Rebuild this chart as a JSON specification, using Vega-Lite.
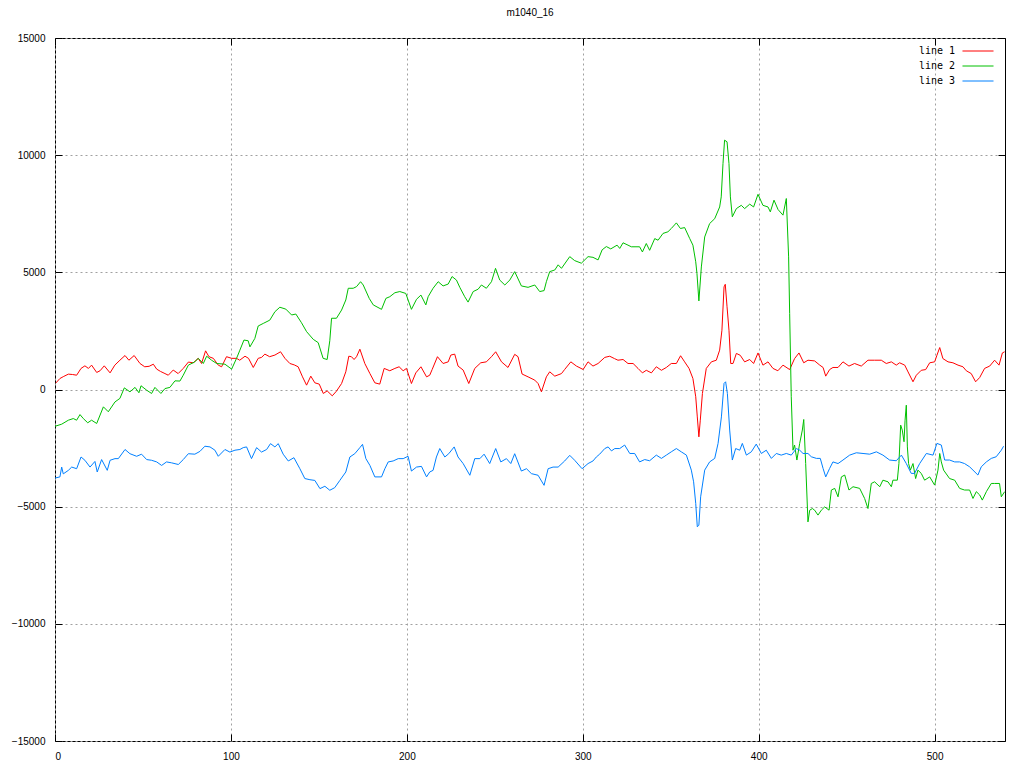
{
"$schema": "https://vega.github.io/schema/vega-lite/v6.json",
"width": 950,
"height": 703,
"autosize": {"type": "none"},
"padding": {"left": 55, "top": 38, "right": 19, "bottom": 27},
"background": "white",
"title": {"text": "m1040_16", "font": "Liberation Sans", "fontSize": 10, "fontWeight": "normal", "color": "black", "anchor": "middle", "offset": 15},
"config": {
  "view": {"stroke": "black", "strokeWidth": 1},
  "axis": {"domain": false, "labelFont": "Liberation Sans", "labelFontSize": 10, "labelColor": "black", "tickColor": "black", "tickSize": -7, "tickWidth": 1, "gridColor": "#a0a0a0", "gridDash": [2, 3], "gridWidth": 1, "gridOpacity": 1, "title": null, "labelPadding": 17}
},
"data": {"values": [
{"s":"line 1","x":0.5,"y":280},{"s":"line 1","x":2.8,"y":470},{"s":"line 1","x":5,"y":560},{"s":"line 1","x":7.6,"y":655},{"s":"line 1","x":10,"y":640},{"s":"line 1","x":12.3,"y":610},{"s":"line 1","x":14.8,"y":900},{"s":"line 1","x":17,"y":1010},{"s":"line 1","x":19,"y":900},{"s":"line 1","x":20.8,"y":1040},{"s":"line 1","x":23.7,"y":727},{"s":"line 1","x":25.6,"y":800},{"s":"line 1","x":28,"y":1010},{"s":"line 1","x":31.3,"y":710},{"s":"line 1","x":34,"y":1040},{"s":"line 1","x":36.9,"y":1250},{"s":"line 1","x":39.8,"y":1450},{"s":"line 1","x":42,"y":1250},{"s":"line 1","x":45,"y":1450},{"s":"line 1","x":48.3,"y":1110},{"s":"line 1","x":51,"y":970},{"s":"line 1","x":53.5,"y":990},{"s":"line 1","x":55.9,"y":1080},{"s":"line 1","x":57.8,"y":870},{"s":"line 1","x":60,"y":770},{"s":"line 1","x":62.5,"y":680},{"s":"line 1","x":64.4,"y":610},{"s":"line 1","x":67.2,"y":830},{"s":"line 1","x":70,"y":680},{"s":"line 1","x":72.9,"y":900},{"s":"line 1","x":75.8,"y":1170},{"s":"line 1","x":78.6,"y":1140},{"s":"line 1","x":81.4,"y":1330},{"s":"line 1","x":83.3,"y":1110},{"s":"line 1","x":85.6,"y":1650},{"s":"line 1","x":87.5,"y":1400},{"s":"line 1","x":90,"y":1330},{"s":"line 1","x":92.8,"y":1040},{"s":"line 1","x":94.7,"y":970},{"s":"line 1","x":97.5,"y":1400},{"s":"line 1","x":100.4,"y":1330},{"s":"line 1","x":103.2,"y":1330},{"s":"line 1","x":105,"y":1250},{"s":"line 1","x":108,"y":1420},{"s":"line 1","x":110,"y":1330},{"s":"line 1","x":112.7,"y":940},{"s":"line 1","x":115.5,"y":1330},{"s":"line 1","x":117.4,"y":1370},{"s":"line 1","x":119.3,"y":1510},{"s":"line 1","x":122,"y":1400},{"s":"line 1","x":125,"y":1470},{"s":"line 1","x":128.2,"y":1610},{"s":"line 1","x":130.7,"y":1330},{"s":"line 1","x":133.5,"y":1110},{"s":"line 1","x":136,"y":1050},{"s":"line 1","x":138.2,"y":970},{"s":"line 1","x":140.7,"y":540},{"s":"line 1","x":143,"y":185},{"s":"line 1","x":145.4,"y":570},{"s":"line 1","x":147.7,"y":285},{"s":"line 1","x":150.2,"y":230},{"s":"line 1","x":152.5,"y":-170},{"s":"line 1","x":154.7,"y":-60},{"s":"line 1","x":157.6,"y":-270},{"s":"line 1","x":160,"y":-70},{"s":"line 1","x":162.9,"y":255},{"s":"line 1","x":165.3,"y":755},{"s":"line 1","x":167,"y":1420},{"s":"line 1","x":168.5,"y":1400},{"s":"line 1","x":170,"y":1280},{"s":"line 1","x":171.4,"y":1400},{"s":"line 1","x":173.3,"y":1720},{"s":"line 1","x":176.1,"y":1110},{"s":"line 1","x":179,"y":680},{"s":"line 1","x":181.8,"y":285},{"s":"line 1","x":184.6,"y":230},{"s":"line 1","x":187.1,"y":900},{"s":"line 1","x":190.3,"y":800},{"s":"line 1","x":193.2,"y":900},{"s":"line 1","x":195.6,"y":970},{"s":"line 1","x":197.9,"y":800},{"s":"line 1","x":199.8,"y":900},{"s":"line 1","x":202.6,"y":255},{"s":"line 1","x":205.1,"y":710},{"s":"line 1","x":208,"y":970},{"s":"line 1","x":211.2,"y":540},{"s":"line 1","x":213,"y":610},{"s":"line 1","x":214.4,"y":855},{"s":"line 1","x":217.4,"y":1400},{"s":"line 1","x":220.6,"y":1110},{"s":"line 1","x":223.5,"y":1180},{"s":"line 1","x":225,"y":1470},{"s":"line 1","x":227.2,"y":1510},{"s":"line 1","x":229.1,"y":1000},{"s":"line 1","x":232,"y":830},{"s":"line 1","x":235.2,"y":255},{"s":"line 1","x":238.6,"y":900},{"s":"line 1","x":242,"y":1140},{"s":"line 1","x":245.2,"y":1180},{"s":"line 1","x":248.1,"y":1400},{"s":"line 1","x":250.5,"y":1610},{"s":"line 1","x":253.8,"y":1180},{"s":"line 1","x":257.5,"y":940},{"s":"line 1","x":261.3,"y":1500},{"s":"line 1","x":263.2,"y":1400},{"s":"line 1","x":265.5,"y":660},{"s":"line 1","x":268.9,"y":540},{"s":"line 1","x":272.7,"y":400},{"s":"line 1","x":274.6,"y":255},{"s":"line 1","x":276.5,"y":-100},{"s":"line 1","x":279.3,"y":540},{"s":"line 1","x":281.2,"y":755},{"s":"line 1","x":284.1,"y":570},{"s":"line 1","x":287.9,"y":680},{"s":"line 1","x":289.7,"y":855},{"s":"line 1","x":293.2,"y":1180},{"s":"line 1","x":296.4,"y":1000},{"s":"line 1","x":300.2,"y":855},{"s":"line 1","x":303,"y":1180},{"s":"line 1","x":305.8,"y":1000},{"s":"line 1","x":308.7,"y":1110},{"s":"line 1","x":312.5,"y":1370},{"s":"line 1","x":315.3,"y":1420},{"s":"line 1","x":318,"y":1320},{"s":"line 1","x":320,"y":1250},{"s":"line 1","x":322.9,"y":1280},{"s":"line 1","x":325.7,"y":1110},{"s":"line 1","x":328.6,"y":1110},{"s":"line 1","x":331.4,"y":900},{"s":"line 1","x":333.9,"y":710},{"s":"line 1","x":336.1,"y":820},{"s":"line 1","x":339,"y":710},{"s":"line 1","x":341.8,"y":970},{"s":"line 1","x":344.7,"y":820},{"s":"line 1","x":347.5,"y":940},{"s":"line 1","x":350.3,"y":1110},{"s":"line 1","x":353.2,"y":1110},{"s":"line 1","x":355.6,"y":1440},{"s":"line 1","x":357.9,"y":1180},{"s":"line 1","x":360.4,"y":900},{"s":"line 1","x":362.6,"y":470},{"s":"line 1","x":364.2,"y":-310},{"s":"line 1","x":365.1,"y":-1170},{"s":"line 1","x":366,"y":-2020},{"s":"line 1","x":366.8,"y":-1310},{"s":"line 1","x":368,"y":-170},{"s":"line 1","x":370.2,"y":900},{"s":"line 1","x":373.1,"y":1180},{"s":"line 1","x":375.9,"y":1250},{"s":"line 1","x":377.8,"y":1680},{"s":"line 1","x":379.1,"y":2530},{"s":"line 1","x":380.3,"y":4380},{"s":"line 1","x":381,"y":4490},{"s":"line 1","x":382,"y":3530},{"s":"line 1","x":383.1,"y":2530},{"s":"line 1","x":384.1,"y":1110},{"s":"line 1","x":385.4,"y":1110},{"s":"line 1","x":387.3,"y":1540},{"s":"line 1","x":389.5,"y":1460},{"s":"line 1","x":392,"y":1180},{"s":"line 1","x":394.9,"y":1280},{"s":"line 1","x":397.1,"y":1110},{"s":"line 1","x":399.6,"y":1560},{"s":"line 1","x":402.4,"y":1040},{"s":"line 1","x":405.3,"y":1180},{"s":"line 1","x":408.1,"y":900},{"s":"line 1","x":410.9,"y":800},{"s":"line 1","x":413.8,"y":1040},{"s":"line 1","x":417.6,"y":850},{"s":"line 1","x":420.4,"y":1320},{"s":"line 1","x":422.9,"y":1560},{"s":"line 1","x":425.6,"y":1140},{"s":"line 1","x":428,"y":1250},{"s":"line 1","x":431.8,"y":1220},{"s":"line 1","x":434.7,"y":1040},{"s":"line 1","x":436.6,"y":940},{"s":"line 1","x":438.1,"y":570},{"s":"line 1","x":440.3,"y":850},{"s":"line 1","x":442.2,"y":940},{"s":"line 1","x":445.1,"y":940},{"s":"line 1","x":447.9,"y":1180},{"s":"line 1","x":451.3,"y":1000},{"s":"line 1","x":454.5,"y":1110},{"s":"line 1","x":458.3,"y":1000},{"s":"line 1","x":462.1,"y":1250},{"s":"line 1","x":465.9,"y":1250},{"s":"line 1","x":469.7,"y":1250},{"s":"line 1","x":472.5,"y":1110},{"s":"line 1","x":475.4,"y":1180},{"s":"line 1","x":478.2,"y":1040},{"s":"line 1","x":480.1,"y":1140},{"s":"line 1","x":483,"y":1040},{"s":"line 1","x":484.9,"y":750},{"s":"line 1","x":487.7,"y":330},{"s":"line 1","x":489.6,"y":610},{"s":"line 1","x":492.4,"y":820},{"s":"line 1","x":494.9,"y":850},{"s":"line 1","x":497.2,"y":1140},{"s":"line 1","x":500,"y":1180},{"s":"line 1","x":501.3,"y":1460},{"s":"line 1","x":502.9,"y":1790},{"s":"line 1","x":504.7,"y":1320},{"s":"line 1","x":507.6,"y":1180},{"s":"line 1","x":510.4,"y":1140},{"s":"line 1","x":513.3,"y":1040},{"s":"line 1","x":516.1,"y":970},{"s":"line 1","x":518,"y":800},{"s":"line 1","x":520.8,"y":680},{"s":"line 1","x":523.3,"y":330},{"s":"line 1","x":525.6,"y":510},{"s":"line 1","x":528.4,"y":900},{"s":"line 1","x":531.3,"y":1000},{"s":"line 1","x":534.1,"y":1250},{"s":"line 1","x":536.6,"y":1040},{"s":"line 1","x":538.5,"y":1560},{"s":"line 1","x":539.8,"y":1610},
{"s":"line 2","x":0,"y":-1570},{"s":"line 2","x":3.8,"y":-1480},{"s":"line 2","x":7.6,"y":-1310},{"s":"line 2","x":10.4,"y":-1240},{"s":"line 2","x":12.3,"y":-1310},{"s":"line 2","x":14.2,"y":-1070},{"s":"line 2","x":16.1,"y":-1240},{"s":"line 2","x":18.6,"y":-1420},{"s":"line 2","x":20.8,"y":-1310},{"s":"line 2","x":23.7,"y":-1450},{"s":"line 2","x":27.5,"y":-740},{"s":"line 2","x":30.3,"y":-950},{"s":"line 2","x":34.1,"y":-530},{"s":"line 2","x":36.9,"y":-380},{"s":"line 2","x":39.4,"y":70},{"s":"line 2","x":42.6,"y":-100},{"s":"line 2","x":45.5,"y":90},{"s":"line 2","x":47.7,"y":-140},{"s":"line 2","x":48.9,"y":160},{"s":"line 2","x":52.1,"y":-30},{"s":"line 2","x":54.9,"y":-170},{"s":"line 2","x":56.8,"y":90},{"s":"line 2","x":60.2,"y":-170},{"s":"line 2","x":62.5,"y":40},{"s":"line 2","x":65.3,"y":90},{"s":"line 2","x":68.2,"y":370},{"s":"line 2","x":71,"y":360},{"s":"line 2","x":72.9,"y":610},{"s":"line 2","x":75.8,"y":1040},{"s":"line 2","x":79.5,"y":1180},{"s":"line 2","x":81.4,"y":1330},{"s":"line 2","x":84.3,"y":1110},{"s":"line 2","x":86.2,"y":1420},{"s":"line 2","x":89,"y":1250},{"s":"line 2","x":91.9,"y":1110},{"s":"line 2","x":96.6,"y":1080},{"s":"line 2","x":100.4,"y":870},{"s":"line 2","x":103.2,"y":1330},{"s":"line 2","x":105.1,"y":1680},{"s":"line 2","x":107.4,"y":2110},{"s":"line 2","x":109.8,"y":2080},{"s":"line 2","x":110.8,"y":1820},{"s":"line 2","x":113.6,"y":2180},{"s":"line 2","x":115.5,"y":2710},{"s":"line 2","x":118.4,"y":2820},{"s":"line 2","x":122.1,"y":2960},{"s":"line 2","x":125,"y":3320},{"s":"line 2","x":127.8,"y":3510},{"s":"line 2","x":131.2,"y":3430},{"s":"line 2","x":134.5,"y":3180},{"s":"line 2","x":136.9,"y":3220},{"s":"line 2","x":140.1,"y":2850},{"s":"line 2","x":143,"y":2470},{"s":"line 2","x":146.8,"y":2140},{"s":"line 2","x":149.6,"y":2000},{"s":"line 2","x":152.4,"y":1330},{"s":"line 2","x":154.7,"y":1280},{"s":"line 2","x":156.2,"y":2080},{"s":"line 2","x":157.2,"y":3040},{"s":"line 2","x":160,"y":3040},{"s":"line 2","x":162.9,"y":3390},{"s":"line 2","x":165.3,"y":3820},{"s":"line 2","x":166.7,"y":4320},{"s":"line 2","x":169.5,"y":4320},{"s":"line 2","x":171.4,"y":4390},{"s":"line 2","x":173.7,"y":4600},{"s":"line 2","x":175.2,"y":4460},{"s":"line 2","x":178.6,"y":3890},{"s":"line 2","x":180.9,"y":3610},{"s":"line 2","x":185.6,"y":3420},{"s":"line 2","x":188.1,"y":3890},{"s":"line 2","x":190.3,"y":3960},{"s":"line 2","x":193.2,"y":4130},{"s":"line 2","x":196,"y":4180},{"s":"line 2","x":199.4,"y":4100},{"s":"line 2","x":202.6,"y":3420},{"s":"line 2","x":205.5,"y":3850},{"s":"line 2","x":208,"y":4030},{"s":"line 2","x":210.8,"y":3610},{"s":"line 2","x":212.1,"y":3960},{"s":"line 2","x":214.9,"y":4320},{"s":"line 2","x":217.8,"y":4600},{"s":"line 2","x":220.6,"y":4420},{"s":"line 2","x":223.5,"y":4500},{"s":"line 2","x":225.7,"y":4820},{"s":"line 2","x":228.2,"y":4670},{"s":"line 2","x":230.1,"y":4360},{"s":"line 2","x":232.9,"y":3960},{"s":"line 2","x":234.8,"y":3730},{"s":"line 2","x":237.7,"y":4180},{"s":"line 2","x":240.5,"y":4280},{"s":"line 2","x":242.4,"y":4460},{"s":"line 2","x":245.2,"y":4320},{"s":"line 2","x":248.1,"y":4600},{"s":"line 2","x":250.4,"y":5170},{"s":"line 2","x":252.8,"y":4670},{"s":"line 2","x":255.7,"y":4460},{"s":"line 2","x":258.5,"y":4670},{"s":"line 2","x":261.3,"y":5030},{"s":"line 2","x":265.1,"y":4420},{"s":"line 2","x":268.9,"y":4360},{"s":"line 2","x":272.7,"y":4460},{"s":"line 2","x":275.5,"y":4180},{"s":"line 2","x":278,"y":4220},{"s":"line 2","x":279.3,"y":4600},{"s":"line 2","x":281.2,"y":5030},{"s":"line 2","x":284.1,"y":5100},{"s":"line 2","x":286,"y":5320},{"s":"line 2","x":287.9,"y":5170},{"s":"line 2","x":292.6,"y":5670},{"s":"line 2","x":295.4,"y":5500},{"s":"line 2","x":299.2,"y":5390},{"s":"line 2","x":303,"y":5670},{"s":"line 2","x":305.8,"y":5640},{"s":"line 2","x":308.7,"y":5530},{"s":"line 2","x":311,"y":5960},{"s":"line 2","x":313.4,"y":6100},{"s":"line 2","x":315.9,"y":6000},{"s":"line 2","x":319.5,"y":6160},{"s":"line 2","x":321,"y":6020},{"s":"line 2","x":322.9,"y":6260},{"s":"line 2","x":325.7,"y":6160},{"s":"line 2","x":327.6,"y":6090},{"s":"line 2","x":332.3,"y":6090},{"s":"line 2","x":333.9,"y":5870},{"s":"line 2","x":336.1,"y":6230},{"s":"line 2","x":338,"y":5940},{"s":"line 2","x":340.9,"y":6440},{"s":"line 2","x":342.8,"y":6370},{"s":"line 2","x":345.6,"y":6660},{"s":"line 2","x":348.4,"y":6730},{"s":"line 2","x":350.3,"y":6870},{"s":"line 2","x":353.2,"y":7110},{"s":"line 2","x":355.5,"y":6870},{"s":"line 2","x":357.9,"y":6910},{"s":"line 2","x":360.8,"y":6440},{"s":"line 2","x":362.6,"y":6160},{"s":"line 2","x":364.2,"y":5450},{"s":"line 2","x":364.9,"y":4950},{"s":"line 2","x":366,"y":3780},{"s":"line 2","x":367.4,"y":5230},{"s":"line 2","x":369.3,"y":6510},{"s":"line 2","x":372.1,"y":7080},{"s":"line 2","x":375,"y":7290},{"s":"line 2","x":377.8,"y":7790},{"s":"line 2","x":378.7,"y":8220},{"s":"line 2","x":379.7,"y":9640},{"s":"line 2","x":380.6,"y":10640},{"s":"line 2","x":382,"y":10570},{"s":"line 2","x":383.1,"y":9640},{"s":"line 2","x":383.9,"y":8220},{"s":"line 2","x":385,"y":7370},{"s":"line 2","x":387.3,"y":7720},{"s":"line 2","x":390.1,"y":7860},{"s":"line 2","x":392,"y":7720},{"s":"line 2","x":394.9,"y":7910},{"s":"line 2","x":397.1,"y":7790},{"s":"line 2","x":399.6,"y":8330},{"s":"line 2","x":402.4,"y":7860},{"s":"line 2","x":405.3,"y":7790},{"s":"line 2","x":406.6,"y":7580},{"s":"line 2","x":408.7,"y":8080},{"s":"line 2","x":411,"y":7680},{"s":"line 2","x":413.8,"y":7440},{"s":"line 2","x":415.7,"y":8150},{"s":"line 2","x":417,"y":5660},{"s":"line 2","x":417.6,"y":3240},{"s":"line 2","x":418.5,"y":-310},{"s":"line 2","x":419.5,"y":-2590},{"s":"line 2","x":420.4,"y":-2370},{"s":"line 2","x":421.7,"y":-3010},{"s":"line 2","x":423.3,"y":-2300},{"s":"line 2","x":424.8,"y":-1730},{"s":"line 2","x":425.6,"y":-1280},{"s":"line 2","x":426.7,"y":-3160},{"s":"line 2","x":428,"y":-5650},{"s":"line 2","x":429,"y":-5150},{"s":"line 2","x":430.5,"y":-5080},{"s":"line 2","x":431.8,"y":-5150},{"s":"line 2","x":433.7,"y":-5360},{"s":"line 2","x":435.6,"y":-5150},{"s":"line 2","x":437.5,"y":-5010},{"s":"line 2","x":440,"y":-5150},{"s":"line 2","x":441.3,"y":-4290},{"s":"line 2","x":443.2,"y":-4220},{"s":"line 2","x":445.1,"y":-4580},{"s":"line 2","x":447,"y":-3730},{"s":"line 2","x":448.9,"y":-3650},{"s":"line 2","x":451.3,"y":-4290},{"s":"line 2","x":453.6,"y":-4150},{"s":"line 2","x":457.4,"y":-4220},{"s":"line 2","x":460.2,"y":-4650},{"s":"line 2","x":462.1,"y":-5080},{"s":"line 2","x":464,"y":-4010},{"s":"line 2","x":465.9,"y":-3940},{"s":"line 2","x":468.8,"y":-4150},{"s":"line 2","x":470.6,"y":-3870},{"s":"line 2","x":473.5,"y":-3940},{"s":"line 2","x":475.4,"y":-4150},{"s":"line 2","x":476.3,"y":-3870},{"s":"line 2","x":478.8,"y":-3870},{"s":"line 2","x":479.7,"y":-3160},{"s":"line 2","x":480.7,"y":-1520},{"s":"line 2","x":481.6,"y":-1730},{"s":"line 2","x":482.6,"y":-2230},{"s":"line 2","x":483.2,"y":-1310},{"s":"line 2","x":483.9,"y":-670},{"s":"line 2","x":484.5,"y":-2450},{"s":"line 2","x":485.2,"y":-3160},{"s":"line 2","x":486.2,"y":-3440},{"s":"line 2","x":487.7,"y":-3160},{"s":"line 2","x":489.2,"y":-3800},{"s":"line 2","x":490.5,"y":-3440},{"s":"line 2","x":492.4,"y":-3580},{"s":"line 2","x":494.3,"y":-3870},{"s":"line 2","x":497.2,"y":-3730},{"s":"line 2","x":500,"y":-4080},{"s":"line 2","x":501.9,"y":-3440},{"s":"line 2","x":502.9,"y":-2730},{"s":"line 2","x":503.8,"y":-3090},{"s":"line 2","x":505.1,"y":-3440},{"s":"line 2","x":508.5,"y":-3800},{"s":"line 2","x":511.4,"y":-3870},{"s":"line 2","x":514.2,"y":-4220},{"s":"line 2","x":517,"y":-4290},{"s":"line 2","x":519.9,"y":-4290},{"s":"line 2","x":521.8,"y":-4650},{"s":"line 2","x":523.7,"y":-4360},{"s":"line 2","x":525.6,"y":-4500},{"s":"line 2","x":527.1,"y":-4720},{"s":"line 2","x":529.4,"y":-4360},{"s":"line 2","x":532.2,"y":-4010},{"s":"line 2","x":534.1,"y":-4010},{"s":"line 2","x":536.9,"y":-4010},{"s":"line 2","x":537.9,"y":-4580},{"s":"line 2","x":539.8,"y":-4360},
{"s":"line 3","x":0,"y":-3780},{"s":"line 3","x":2.8,"y":-3730},{"s":"line 3","x":3.8,"y":-3310},{"s":"line 3","x":4.7,"y":-3600},{"s":"line 3","x":7.6,"y":-3450},{"s":"line 3","x":9.5,"y":-3310},{"s":"line 3","x":12.3,"y":-3380},{"s":"line 3","x":14.8,"y":-2880},{"s":"line 3","x":17,"y":-3020},{"s":"line 3","x":19.9,"y":-3310},{"s":"line 3","x":22.7,"y":-3070},{"s":"line 3","x":24,"y":-3520},{"s":"line 3","x":26.5,"y":-2990},{"s":"line 3","x":29.7,"y":-3450},{"s":"line 3","x":31.3,"y":-3020},{"s":"line 3","x":34.1,"y":-2950},{"s":"line 3","x":36,"y":-2950},{"s":"line 3","x":39.8,"y":-2560},{"s":"line 3","x":42.6,"y":-2740},{"s":"line 3","x":46.4,"y":-2850},{"s":"line 3","x":49.2,"y":-2760},{"s":"line 3","x":52.1,"y":-2990},{"s":"line 3","x":54.9,"y":-3020},{"s":"line 3","x":57.8,"y":-3090},{"s":"line 3","x":60.6,"y":-3240},{"s":"line 3","x":63.4,"y":-3090},{"s":"line 3","x":66.3,"y":-3130},{"s":"line 3","x":70.1,"y":-3200},{"s":"line 3","x":72.9,"y":-2990},{"s":"line 3","x":75.8,"y":-2740},{"s":"line 3","x":79.5,"y":-2760},{"s":"line 3","x":82.4,"y":-2640},{"s":"line 3","x":85.2,"y":-2420},{"s":"line 3","x":88.1,"y":-2450},{"s":"line 3","x":90.9,"y":-2590},{"s":"line 3","x":92.8,"y":-2850},{"s":"line 3","x":96.6,"y":-2560},{"s":"line 3","x":99.4,"y":-2670},{"s":"line 3","x":102.3,"y":-2590},{"s":"line 3","x":105.1,"y":-2560},{"s":"line 3","x":107,"y":-2480},{"s":"line 3","x":108.9,"y":-2450},{"s":"line 3","x":111.7,"y":-2950},{"s":"line 3","x":114.6,"y":-2480},{"s":"line 3","x":117.4,"y":-2670},{"s":"line 3","x":120.3,"y":-2560},{"s":"line 3","x":122.5,"y":-2310},{"s":"line 3","x":125,"y":-2450},{"s":"line 3","x":126.9,"y":-2310},{"s":"line 3","x":129.7,"y":-2760},{"s":"line 3","x":132.6,"y":-3050},{"s":"line 3","x":135.8,"y":-2910},{"s":"line 3","x":139.2,"y":-3380},{"s":"line 3","x":142,"y":-3800},{"s":"line 3","x":144.9,"y":-3850},{"s":"line 3","x":147.7,"y":-3880},{"s":"line 3","x":150.6,"y":-4230},{"s":"line 3","x":153.4,"y":-4130},{"s":"line 3","x":156.2,"y":-4300},{"s":"line 3","x":159,"y":-4190},{"s":"line 3","x":161.9,"y":-3880},{"s":"line 3","x":165.3,"y":-3520},{"s":"line 3","x":167.6,"y":-2880},{"s":"line 3","x":170.4,"y":-2740},{"s":"line 3","x":173.3,"y":-2480},{"s":"line 3","x":174.8,"y":-2340},{"s":"line 3","x":176.7,"y":-2950},{"s":"line 3","x":179,"y":-3240},{"s":"line 3","x":181.8,"y":-3730},{"s":"line 3","x":185.6,"y":-3730},{"s":"line 3","x":187.5,"y":-3380},{"s":"line 3","x":189.4,"y":-3090},{"s":"line 3","x":192.2,"y":-3050},{"s":"line 3","x":195.1,"y":-2950},{"s":"line 3","x":197.9,"y":-2950},{"s":"line 3","x":200.7,"y":-2850},{"s":"line 3","x":202.6,"y":-3480},{"s":"line 3","x":205.5,"y":-3310},{"s":"line 3","x":208.3,"y":-3280},{"s":"line 3","x":211.2,"y":-3730},{"s":"line 3","x":213,"y":-3520},{"s":"line 3","x":214.9,"y":-3450},{"s":"line 3","x":216.8,"y":-2880},{"s":"line 3","x":218.7,"y":-2520},{"s":"line 3","x":221.6,"y":-2880},{"s":"line 3","x":223.8,"y":-2740},{"s":"line 3","x":226.9,"y":-2450},{"s":"line 3","x":229.1,"y":-2880},{"s":"line 3","x":232,"y":-3160},{"s":"line 3","x":235.8,"y":-3660},{"s":"line 3","x":238.6,"y":-2950},{"s":"line 3","x":241.5,"y":-2950},{"s":"line 3","x":243.9,"y":-2760},{"s":"line 3","x":247.1,"y":-3160},{"s":"line 3","x":250.5,"y":-2520},{"s":"line 3","x":253.4,"y":-3090},{"s":"line 3","x":256.6,"y":-2950},{"s":"line 3","x":259.1,"y":-3160},{"s":"line 3","x":261.3,"y":-2740},{"s":"line 3","x":265.1,"y":-3480},{"s":"line 3","x":268,"y":-3380},{"s":"line 3","x":270.8,"y":-3590},{"s":"line 3","x":274.6,"y":-3660},{"s":"line 3","x":278,"y":-4090},{"s":"line 3","x":280.3,"y":-3380},{"s":"line 3","x":283.1,"y":-3310},{"s":"line 3","x":286,"y":-3310},{"s":"line 3","x":289.7,"y":-3050},{"s":"line 3","x":292.6,"y":-2810},{"s":"line 3","x":295.4,"y":-3020},{"s":"line 3","x":299.6,"y":-3380},{"s":"line 3","x":303,"y":-3160},{"s":"line 3","x":305.8,"y":-3050},{"s":"line 3","x":307.7,"y":-2880},{"s":"line 3","x":309.6,"y":-2760},{"s":"line 3","x":312.5,"y":-2520},{"s":"line 3","x":314.4,"y":-2450},{"s":"line 3","x":316.3,"y":-2620},{"s":"line 3","x":318.2,"y":-2520},{"s":"line 3","x":321,"y":-2520},{"s":"line 3","x":323.8,"y":-2370},{"s":"line 3","x":326.7,"y":-2730},{"s":"line 3","x":329.5,"y":-2730},{"s":"line 3","x":332.3,"y":-3090},{"s":"line 3","x":335.2,"y":-2990},{"s":"line 3","x":338,"y":-3040},{"s":"line 3","x":341.8,"y":-2800},{"s":"line 3","x":344.7,"y":-2940},{"s":"line 3","x":347.5,"y":-2800},{"s":"line 3","x":350.3,"y":-2660},{"s":"line 3","x":353.2,"y":-2520},{"s":"line 3","x":356,"y":-2660},{"s":"line 3","x":358.9,"y":-2800},{"s":"line 3","x":361.7,"y":-3440},{"s":"line 3","x":363,"y":-3940},{"s":"line 3","x":364.2,"y":-4860},{"s":"line 3","x":365.1,"y":-5860},{"s":"line 3","x":366,"y":-5790},{"s":"line 3","x":367,"y":-4580},{"s":"line 3","x":369.3,"y":-3440},{"s":"line 3","x":372.1,"y":-3090},{"s":"line 3","x":375,"y":-2940},{"s":"line 3","x":376.9,"y":-2300},{"s":"line 3","x":378.8,"y":-1170},{"s":"line 3","x":380.3,"y":260},{"s":"line 3","x":381.2,"y":330},{"s":"line 3","x":382.2,"y":-170},{"s":"line 3","x":383.5,"y":-1730},{"s":"line 3","x":385,"y":-3010},{"s":"line 3","x":386.9,"y":-2520},{"s":"line 3","x":389.2,"y":-2590},{"s":"line 3","x":390.7,"y":-2300},{"s":"line 3","x":393,"y":-2800},{"s":"line 3","x":395.8,"y":-2660},{"s":"line 3","x":398.6,"y":-2330},{"s":"line 3","x":401.5,"y":-2730},{"s":"line 3","x":404.3,"y":-2590},{"s":"line 3","x":407.2,"y":-2940},{"s":"line 3","x":410,"y":-2730},{"s":"line 3","x":412.8,"y":-2800},{"s":"line 3","x":415.7,"y":-2730},{"s":"line 3","x":418.5,"y":-2800},{"s":"line 3","x":421.4,"y":-2520},{"s":"line 3","x":423.3,"y":-2590},{"s":"line 3","x":425.2,"y":-2730},{"s":"line 3","x":428,"y":-2730},{"s":"line 3","x":429.9,"y":-2870},{"s":"line 3","x":432.8,"y":-2940},{"s":"line 3","x":435,"y":-2940},{"s":"line 3","x":436.6,"y":-3370},{"s":"line 3","x":438.1,"y":-3730},{"s":"line 3","x":440.3,"y":-3370},{"s":"line 3","x":442.2,"y":-3090},{"s":"line 3","x":445.1,"y":-3160},{"s":"line 3","x":447.9,"y":-3010},{"s":"line 3","x":451.7,"y":-2800},{"s":"line 3","x":455.5,"y":-2700},{"s":"line 3","x":459.3,"y":-2730},{"s":"line 3","x":463.1,"y":-2760},{"s":"line 3","x":466.9,"y":-2660},{"s":"line 3","x":470.6,"y":-2800},{"s":"line 3","x":474.4,"y":-3010},{"s":"line 3","x":478.2,"y":-3040},{"s":"line 3","x":481.1,"y":-2800},{"s":"line 3","x":483.9,"y":-3160},{"s":"line 3","x":486.7,"y":-3580},{"s":"line 3","x":488.6,"y":-3580},{"s":"line 3","x":491.5,"y":-3160},{"s":"line 3","x":495.3,"y":-2730},{"s":"line 3","x":499.1,"y":-2800},{"s":"line 3","x":501.3,"y":-2300},{"s":"line 3","x":503.8,"y":-2370},{"s":"line 3","x":505.7,"y":-3010},{"s":"line 3","x":508.5,"y":-3010},{"s":"line 3","x":511.4,"y":-3090},{"s":"line 3","x":514.2,"y":-3090},{"s":"line 3","x":517,"y":-3160},{"s":"line 3","x":519.9,"y":-3300},{"s":"line 3","x":521.8,"y":-3440},{"s":"line 3","x":524.6,"y":-3650},{"s":"line 3","x":526.5,"y":-3300},{"s":"line 3","x":529.4,"y":-3090},{"s":"line 3","x":532.2,"y":-2940},{"s":"line 3","x":535,"y":-2870},{"s":"line 3","x":537.9,"y":-2590},{"s":"line 3","x":539.2,"y":-2420}
]},
"layer": [
  {
    "mark": {"type": "line", "strokeWidth": 1, "interpolate": "linear"},
    "encoding": {
      "x": {"field": "x", "type": "quantitative", "scale": {"domain": [0, 540], "nice": false, "zero": false},
            "axis": {"orient": "bottom", "values": [0, 100, 200, 300, 400, 500], "grid": true, "format": "d"}},
      "y": {"field": "y", "type": "quantitative", "scale": {"domain": [-15000, 15000], "nice": false},
            "axis": {"orient": "left", "values": [-15000, -10000, -5000, 0, 5000, 10000, 15000], "grid": true, "format": "d"}},
      "color": {"field": "s", "type": "nominal",
        "scale": {"domain": ["line 1", "line 2", "line 3"], "range": ["#ff0000", "#00c000", "#0080ff"]},
        "legend": {"title": null, "orient": "none", "legendX": 914, "legendY": 4, "symbolType": "M-3,0H3", "symbolSize": 107, "symbolStrokeWidth": 1, "rowPadding": 4, "labelFont": "DejaVu Sans Mono", "labelFontSize": 10, "labelColor": "black", "labelAlign": "right", "labelOffset": -29, "padding": 3, "fillColor": "white", "strokeColor": null}
      },
      "order": {"field": "x", "type": "quantitative"}
    }
  },
  {
    "mark": {"type": "point", "opacity": 0},
    "encoding": {
      "x": {"field": "x", "type": "quantitative", "axis": {"orient": "top", "values": [0, 100, 200, 300, 400, 500], "labels": false, "grid": false}},
      "y": {"field": "y", "type": "quantitative", "axis": {"orient": "right", "values": [-15000, -10000, -5000, 0, 5000, 10000, 15000], "labels": false, "grid": false}}
    }
  }
],
"resolve": {"axis": {"x": "independent", "y": "independent"}}
}
